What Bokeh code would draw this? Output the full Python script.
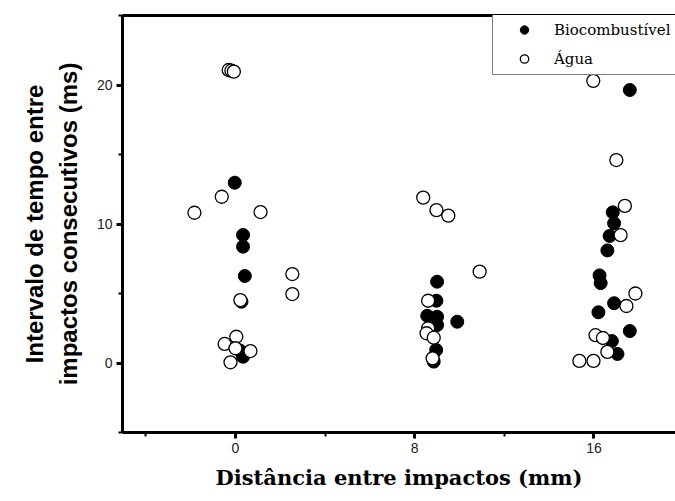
from bokeh.plotting import figure
from bokeh.models import (Range1d, FixedTicker, LinearAxis, Legend, LegendItem)
from bokeh.embed import file_html
from bokeh.resources import INLINE

# Biocombustível (filled)
bio_x = [-0.03, 0.34, 0.34, 0.42, 0.27, 0.34, 0.20,
         9.00, 8.97, 8.56, 9.00, 9.00, 9.90, 8.96, 8.85,
         17.60, 16.84, 16.90, 16.70, 16.60, 16.25, 16.30, 16.90, 16.20, 17.60, 16.80, 17.05]
bio_y = [12.97, 9.21, 8.37, 6.26, 4.41, 0.45, 0.90,
         5.85, 4.48, 3.40, 3.33, 2.73, 2.97, 0.94, 0.10,
         19.64, 10.84, 10.05, 9.14, 8.10, 6.30, 5.75, 4.30, 3.65, 2.30, 1.58, 0.65]

# Água (open)
agua_x = [-0.30, -0.18, -0.07, -0.61, -1.83, 1.12, 2.54, 2.54, 0.22, 0.04, -0.48, 0.00, 0.67, -0.22,
          8.38, 8.97, 9.50, 10.90, 8.60, 8.60, 8.53, 8.85, 8.80,
          15.97, 17.00, 17.38, 17.19, 17.85, 17.45, 16.07, 16.40, 16.60, 15.35, 15.98]
agua_y = [21.08, 21.03, 20.96, 11.96, 10.81, 10.86, 6.40, 4.96, 4.53, 1.89, 1.37, 1.06, 0.86, 0.05,
          11.90, 11.00, 10.60, 6.57, 4.48, 2.50, 2.14, 1.82, 0.34,
          20.30, 14.60, 11.30, 9.20, 5.00, 4.10, 2.00, 1.80, 0.80, 0.15, 0.15]

x_major = [0, 8, 16]
x_minor = [-4, 4, 12, 20]
y_major = [0, 10, 20]
y_minor = [-5, 5, 15, 25]

p = figure(width=675, height=501, output_backend="svg", toolbar_location=None,
           x_range=Range1d(-5.04, 19.64), y_range=Range1d(-5, 25),
           min_border_left=122, min_border_right=0, min_border_top=15,
           min_border_bottom=69)
p.outline_line_color = None
p.grid.visible = False
p.background_fill_color = "white"
p.border_fill_color = "white"

r_bio = p.scatter(bio_x, bio_y, size=13, marker="circle", fill_color="black",
                  line_color="black", line_width=1)
r_agua = p.scatter(agua_x, agua_y, size=13, marker="circle", fill_color="white",
                   line_color="black", line_width=1.3)

xa = p.xaxis[0]
xa.ticker = FixedTicker(ticks=x_major, minor_ticks=x_minor)
xa.axis_label = "Distância entre impactos (mm)"
xa.axis_label_text_font = "DejaVu Serif"
xa.axis_label_text_font_style = "bold"
xa.axis_label_text_font_size = "21px"
xa.axis_label_text_color = "black"
xa.axis_label_standoff = 9

ya = p.yaxis[0]
ya.ticker = FixedTicker(ticks=y_major, minor_ticks=y_minor)
ya.axis_label = "Intervalo de tempo entre\nimpactos consecutivos (ms)"
ya.axis_label_text_font = "Liberation Sans"
ya.axis_label_text_font_style = "bold"
ya.axis_label_text_font_size = "24px"
ya.axis_label_text_color = "black"
ya.axis_label_text_line_height = 1.25
ya.axis_label_standoff = 12

for ax in (xa, ya):
    ax.axis_line_width = 3
    ax.axis_line_color = "black"
    ax.major_tick_line_width = 3
    ax.minor_tick_line_width = 2
    ax.major_tick_out = 6
    ax.major_tick_in = 0
    ax.minor_tick_out = 4
    ax.minor_tick_in = 0
    ax.major_label_text_font = "Liberation Sans"
    ax.major_label_text_font_size = "14px"
    ax.major_label_text_color = "#222222"
    ax.major_label_standoff = 4

top = LinearAxis(ticker=FixedTicker(ticks=[]), axis_line_width=3, axis_line_color="black",
                 major_label_text_font_size="0px", major_tick_out=0, minor_tick_out=0,
                 major_tick_in=0, minor_tick_in=0)
p.add_layout(top, "above")

legend = Legend(items=[LegendItem(label="Biocombustível", renderers=[r_bio]),
                       LegendItem(label="Água", renderers=[r_agua])],
                location=(370, 357), padding=5, spacing=8,
                glyph_width=52, glyph_height=21, label_height=21, label_standoff=4,
                label_text_font="DejaVu Serif", label_text_font_size="15px",
                label_text_color="black",
                border_line_color="black", border_line_width=1,
                background_fill_color="white", background_fill_alpha=1.0,
                margin=0)
p.add_layout(legend, "center")

open("out.html", "w").write(file_html(p, INLINE))
